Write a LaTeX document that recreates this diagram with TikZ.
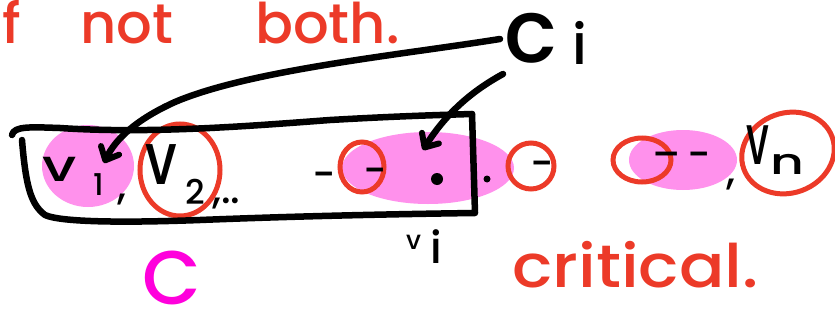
\documentclass[tikz,border=0pt]{standalone}
\usepackage{fontspec}
\setmainfont{Poppins}[BoldFont={Poppins Medium}]
\usetikzlibrary{arrows.meta}
\definecolor{penred}{RGB}{236,58,40}
\definecolor{penpink}{RGB}{255,145,236}
\definecolor{penmag}{RGB}{255,0,220}
\newcommand\hwsize[1]{\fontsize{#1}{#1}\selectfont\bfseries}
\begin{document}
\begin{tikzpicture}[x=1pt,y=-1pt,
  blk/.style={line width=6.5pt,line cap=round,line join=round,black},
  redring/.style={line width=5pt,penred},
  blob/.style={fill=penpink},
  lbl/.style={inner sep=0pt,anchor=base west,text=black},
  redtxt/.style={inner sep=0pt,anchor=base west,text=penred},
  barb/.style={-{Straight Barb[length=11pt,width=20pt,line width=6pt,round]}}]
\useasboundingbox (0,0) rectangle (835,324);
\clip (0,0) rectangle (835,324);

% highlighted groups
\fill[blob] (88,166) ellipse [x radius=46pt, y radius=41pt];
\fill[blob] (428,168) ellipse [x radius=86pt, y radius=36pt];
\fill[blob] (683,160) ellipse [x radius=54pt, y radius=30pt];

% red rings around chosen vertices
\draw[redring] (180,170) ellipse [x radius=40pt, y radius=46pt];
\draw[redring] (362,167) ellipse [x radius=22pt, y radius=25pt];
\draw[redring] (531,166) ellipse [x radius=23pt, y radius=23pt];
\draw[redring] (642,160) ellipse [x radius=29pt, y radius=22pt];
\draw[redring,rotate around={20:(788,153)}] (788,153) ellipse [x radius=47pt, y radius=40pt];

% the set C
\draw[blk] (12,135) .. controls (14,126) and (30,127) .. (60,128)
  .. controls (150,134) and (250,126) .. (330,120)
  .. controls (400,116) and (440,115) .. (472,114);
\draw[blk] (22,140) .. controls (26,190) and (32,205) .. (45,215)
  .. controls (60,222) and (120,223) .. (200,220)
  .. controls (300,216) and (400,214) .. (475,213) -- (472,114);

% sequence of vertices
\node[lbl,font=\hwsize{44}] (v1) at (42,181) {\scalebox{1.35}[1]{v}};
\node[lbl,font=\hwsize{30}] (s1) at (93,195) {1};
\node[lbl,font=\hwsize{40}] (c1) at (117,199) {,};
\node[lbl,font=\hwsize{50}] (v2) at (145,184) {\scalebox{1.1}[1.45]{v}};
\node[lbl,font=\hwsize{34}] (s2) at (185,204) {2};
\node[lbl,font=\hwsize{40}] (c2) at (212,203) {,..};
\node[lbl,font=\hwsize{40}] (d1) at (312,188) {-};
\node[lbl,font=\hwsize{40}] (d2) at (363,184) {-};
\fill (437,179) circle (6pt);
\fill (487,179) circle (3.5pt);
\node[lbl,font=\hwsize{40}] (d3) at (530,177) {-};
\node[lbl,font=\hwsize{40}] (d4) at (652,168) {--\,-};
\node[lbl,font=\hwsize{40}] (c3) at (726,184) {,};
\node[lbl,font=\hwsize{44}] (vn) at (746,164) {\scalebox{0.9}[1.6]{v}};
\node[lbl,font=\hwsize{36}] (sn) at (770,174) {\scalebox{1.45}[1]{n}};
\node[lbl,font=\hwsize{26}] (vi) at (406,249) {v};
\node[lbl,font=\hwsize{44}] (si) at (430,263) {i};

% the cluster label
\node[lbl,font=\hwsize{88}] (ci) at (504,62) {c};
\node[lbl,font=\hwsize{56}] (ii) at (572,64) {i};
\coordinate (cstart) at (500,39);
\coordinate (cdown) at (503,74);
\coordinate (v1tip) at (104,163);
\coordinate (vitip) at (423,150);
\draw[blk,barb] (cstart) .. controls (400,55) and (250,70) .. (175,102)
  .. controls (135,120) and (115,140) .. (v1tip);
\draw[blk,barb] (cdown) .. controls (470,92) and (445,115) .. (vitip);

% notes
\node[redtxt,font=\hwsize{56}] (nf) at (2,43) {f};
\node[redtxt,font=\hwsize{56}] (nnot) at (80,43) {not};
\node[redtxt,font=\hwsize{56}] (nboth) at (255,43) {both.};
\node[redtxt,font=\hwsize{60}] (crit) at (512,287) {\scalebox{1.12}[1]{critical.}};
\node[inner sep=0pt,anchor=base,text=penmag,font=\hwsize{76}] (bigC) at (172,304) {C};
\end{tikzpicture}
\end{document}
